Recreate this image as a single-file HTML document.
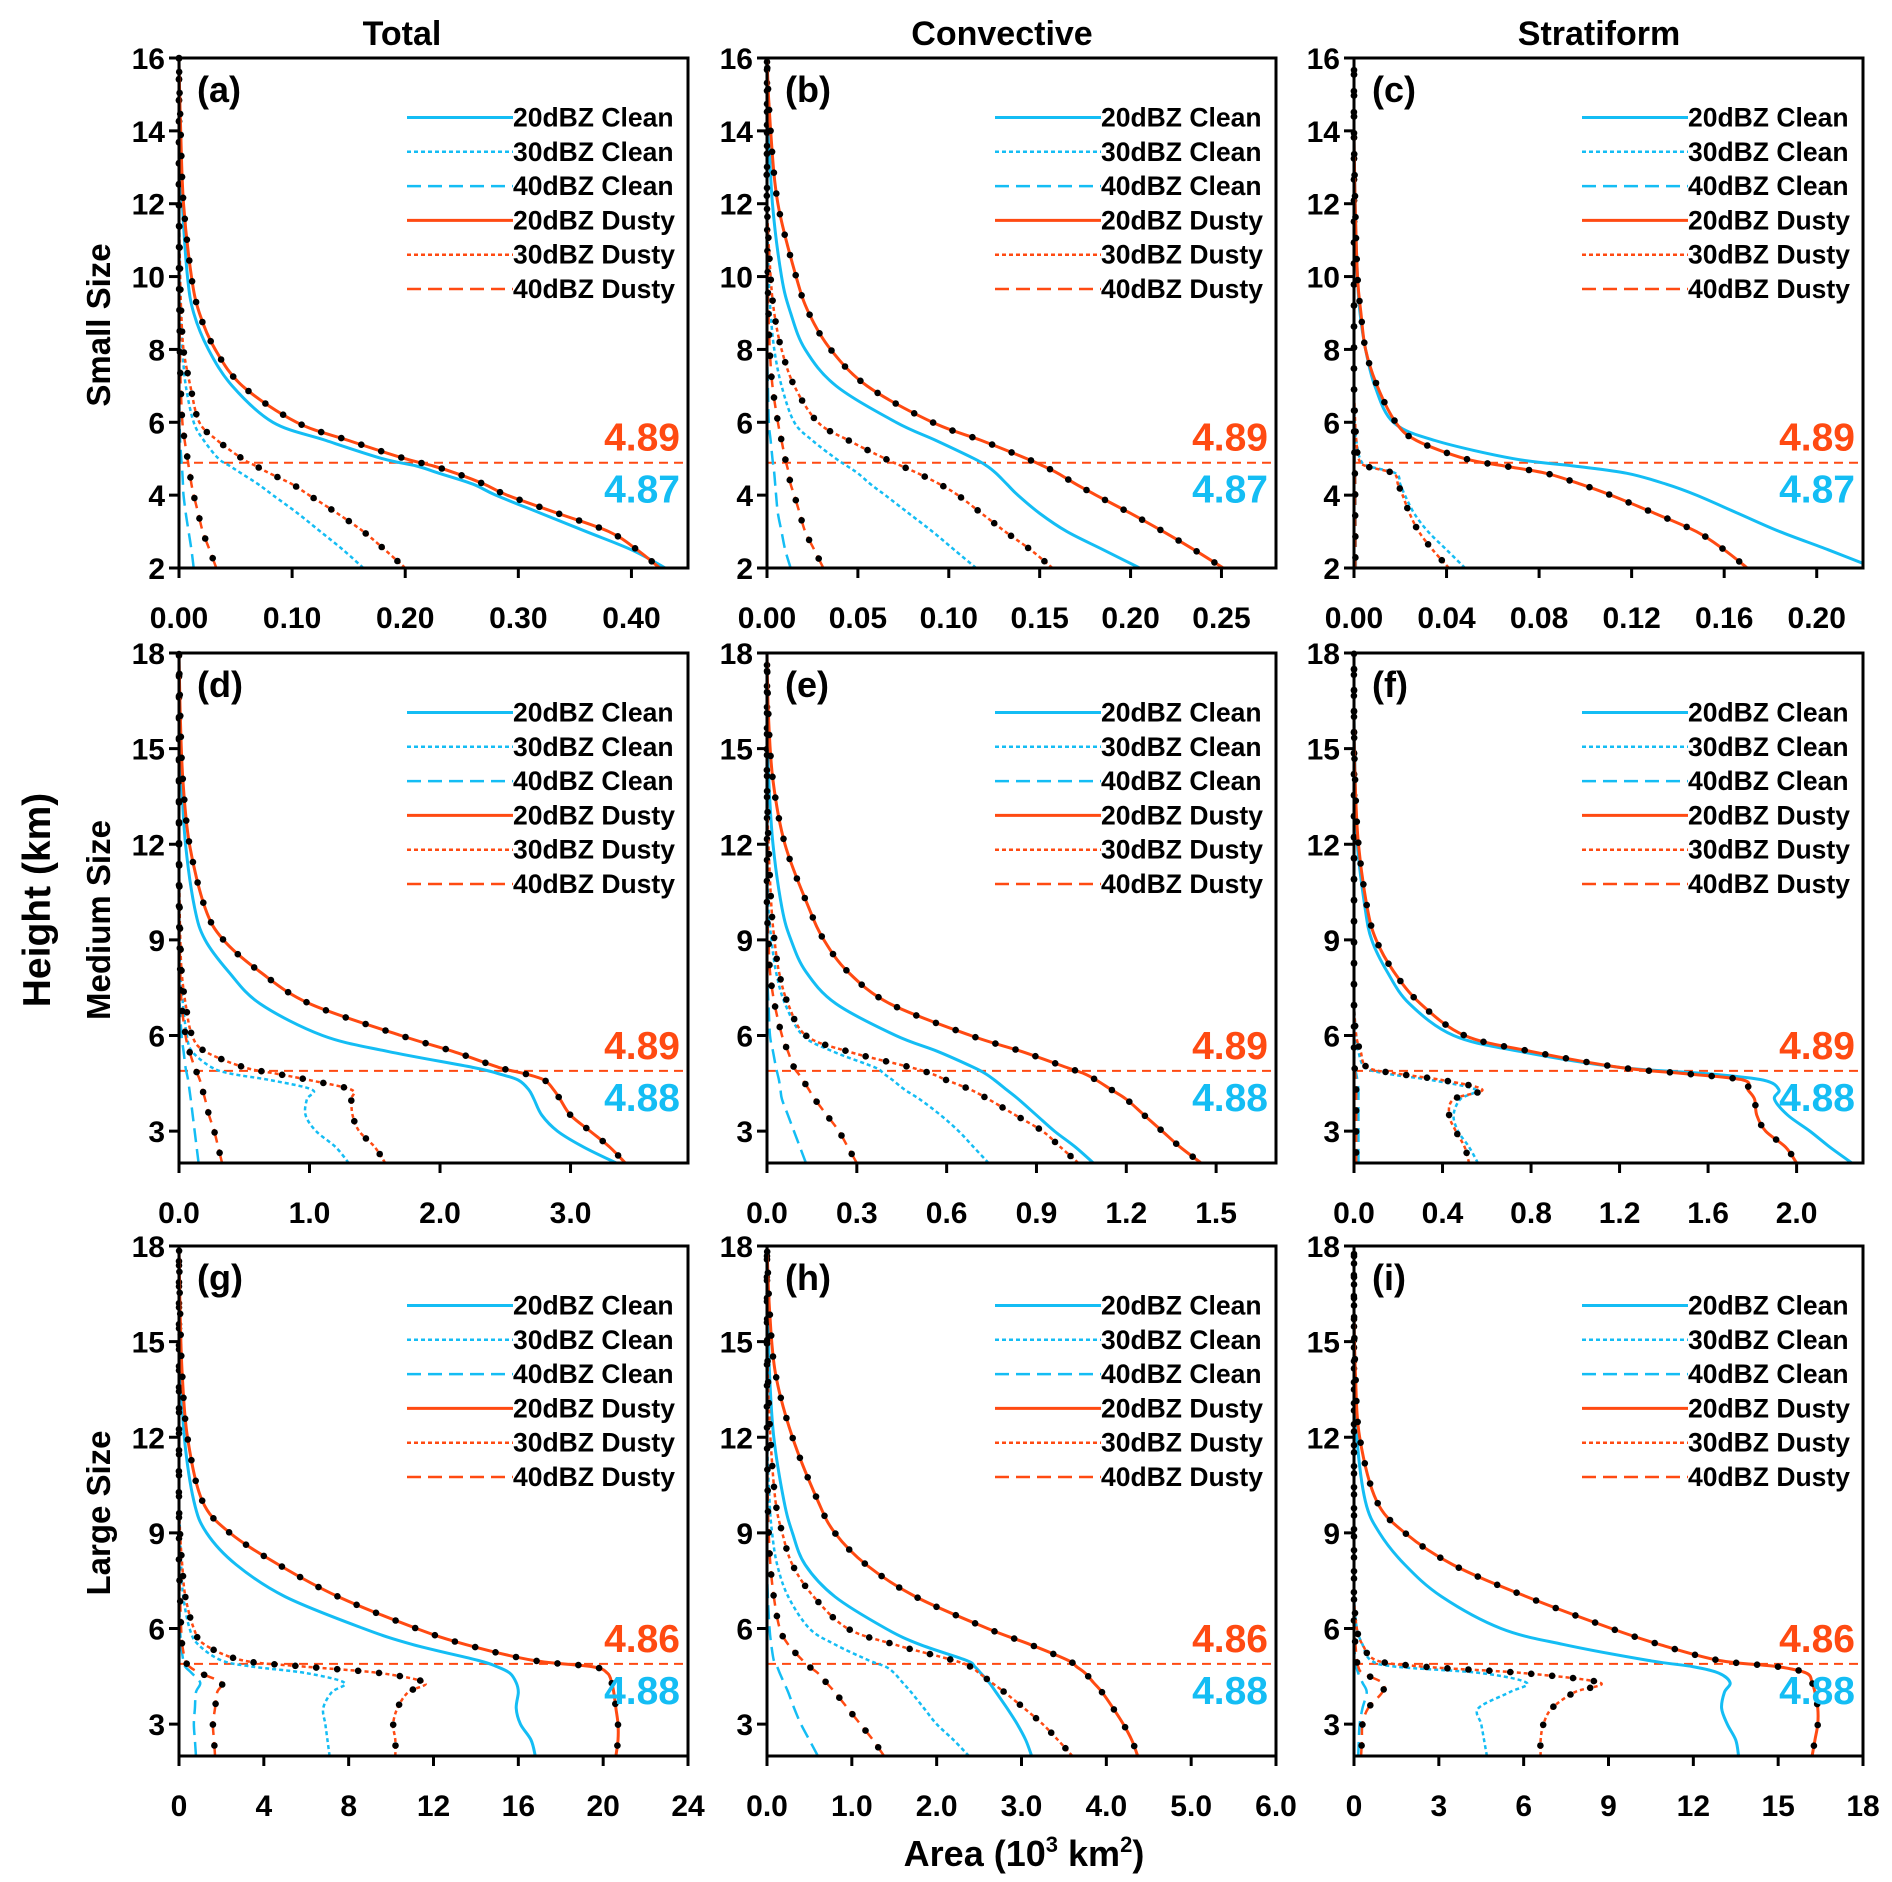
<!DOCTYPE html>
<html><head><meta charset="utf-8"><style>
html,body{margin:0;padding:0;background:#fff}
svg{display:block;font-family:"Liberation Sans",Arial,sans-serif;font-weight:bold}
</style></head><body>
<svg id="fig" width="1892" height="1882" viewBox="0 0 1892 1882" xmlns="http://www.w3.org/2000/svg"></svg>
<script>
// shared height grid (km)
const H = [2,2.5,3,3.5,4,4.3,4.6,4.8,5,5.5,6,7,8,9,10,12,14,16,18];
const seriesNames = ["20dBZ Clean","30dBZ Clean","40dBZ Clean","20dBZ Dusty","30dBZ Dusty","40dBZ Dusty"];
const panelLetters = ["a","b","c","d","e","f","g","h","i"];
const colTitles = ["Total","Convective","Stratiform"];
const rowTitles = ["Small Size","Medium Size","Large Size"];
const xMaxes = [0.45,0.28,0.22,3.9,1.7,2.3,24,6,18];
const xTicks = [[0,0.1,0.2,0.3,0.4],[0,0.05,0.1,0.15,0.2,0.25],[0,0.04,0.08,0.12,0.16,0.2],[0,1,2,3],[0,0.3,0.6,0.9,1.2,1.5],[0,0.4,0.8,1.2,1.6,2.0],[0,4,8,12,16,20,24],[0,1,2,3,4,5,6],[0,3,6,9,12,15,18]];
const xDecimals = [2,2,2,1,1,1,0,1,0];
const yTicksRow1 = [2,4,6,8,10,12,14,16];
const yTicksRow23 = [3,6,9,12,15,18];
const dustyLabels = ["4.89","4.89","4.89","4.89","4.89","4.89","4.86","4.86","4.86"];
const cleanLabels = ["4.87","4.87","4.87","4.88","4.88","4.88","4.88","4.88","4.88"];
const refHeight = 4.89;

// panel a
const a20C=[0.43,0.40,0.36,0.32,0.28,0.26,0.23,0.21,0.18,0.13,0.083,0.047,0.026,0.013,0.0075,0.003,0.001,0,0];
const a30C=[0.163,0.145,0.125,0.105,0.083,0.07,0.055,0.045,0.035,0.022,0.013,0.006,0.003,0.0015,0.001,0,0,0,0];
const a40C=[0.013,0.011,0.0085,0.006,0.004,0.0035,0.003,0.0025,0.002,0.001,0.0005,0,0,0,0,0,0,0,0];
const a20D=[0.425,0.405,0.38,0.335,0.29,0.27,0.245,0.225,0.2,0.15,0.104,0.056,0.032,0.018,0.011,0.004,0.0015,0,0];
const a30D=[0.2,0.182,0.163,0.14,0.115,0.1,0.08,0.068,0.056,0.034,0.018,0.01,0.004,0.002,0.001,0,0,0,0];
const a40D=[0.033,0.027,0.021,0.017,0.013,0.011,0.0095,0.0085,0.0075,0.005,0.003,0.0015,0.0008,0.0004,0,0,0,0,0];
// panel b
const b20C=[0.205,0.185,0.165,0.15,0.138,0.132,0.126,0.121,0.114,0.093,0.071,0.038,0.021,0.013,0.008,0.003,0.001,0,0];
const b30C=[0.115,0.103,0.091,0.078,0.065,0.057,0.05,0.044,0.038,0.025,0.015,0.008,0.004,0.002,0.001,0,0,0,0];
const b40C=[0.013,0.01,0.008,0.006,0.005,0.0045,0.004,0.0035,0.003,0.002,0.001,0.0005,0,0,0,0,0,0,0];
const b20D=[0.251,0.235,0.218,0.2,0.181,0.17,0.16,0.152,0.143,0.118,0.091,0.055,0.035,0.023,0.016,0.006,0.002,0,0];
const b30D=[0.157,0.145,0.131,0.118,0.105,0.095,0.083,0.074,0.065,0.045,0.028,0.015,0.008,0.004,0.002,0,0,0,0];
const b40D=[0.031,0.026,0.021,0.018,0.015,0.013,0.012,0.011,0.01,0.008,0.006,0.003,0.0015,0.0008,0.0004,0,0,0,0];
// panel c
const c20C=[0.225,0.205,0.184,0.166,0.148,0.135,0.118,0.095,0.069,0.035,0.017,0.009,0.005,0.0026,0.0015,0.0005,0,0,0];
const c30C=[0.048,0.04,0.032,0.026,0.022,0.02,0.018,0.006,0.0026,0.001,0.0003,0,0,0,0,0,0,0,0];
const c40C=[0.0008,0.0008,0.0007,0.0007,0.0006,0.0006,0.0005,0.0004,0.0003,0.0002,0.0001,0,0,0,0,0,0,0,0];
const c20D=[0.17,0.16,0.148,0.13,0.111,0.098,0.083,0.065,0.048,0.027,0.018,0.01,0.005,0.003,0.0015,0.0005,0,0,0];
const c30D=[0.041,0.034,0.028,0.024,0.021,0.019,0.017,0.005,0.002,0.001,0.0005,0,0,0,0,0,0,0,0];
const c40D=[0.0006,0.0006,0.0006,0.0005,0.0005,0.0005,0.0004,0.0003,0.0002,0.0001,0,0,0,0,0,0,0,0,0];
// panel d
const d20C=[3.35,3.1,2.9,2.78,2.72,2.68,2.6,2.45,2.25,1.6,1.1,0.62,0.38,0.2,0.12,0.05,0.02,0.005,0];
const d30C=[1.3,1.2,1.05,0.97,0.98,1.02,0.7,0.4,0.25,0.1,0.06,0.03,0.01,0.005,0,0,0,0,0];
const d40C=[0.15,0.135,0.12,0.105,0.09,0.08,0.07,0.06,0.05,0.035,0.02,0.005,0,0,0,0,0,0,0];
const d20D=[3.42,3.3,3.15,3.0,2.92,2.87,2.8,2.65,2.45,2.1,1.7,1.0,0.62,0.34,0.2,0.08,0.03,0.01,0];
const d30D=[1.58,1.5,1.38,1.33,1.32,1.32,1.0,0.75,0.5,0.2,0.1,0.05,0.02,0.01,0.005,0,0,0,0];
const d40D=[0.33,0.3,0.27,0.23,0.2,0.18,0.16,0.14,0.12,0.08,0.05,0.02,0.01,0.005,0,0,0,0,0];
// panel e
const e20C=[1.09,1.03,0.96,0.9,0.84,0.8,0.76,0.73,0.69,0.57,0.43,0.23,0.13,0.08,0.05,0.02,0.006,0,0];
const e30C=[0.74,0.69,0.64,0.58,0.51,0.46,0.42,0.39,0.36,0.22,0.12,0.06,0.03,0.015,0.005,0,0,0,0];
const e40C=[0.13,0.11,0.09,0.07,0.05,0.045,0.04,0.035,0.03,0.02,0.01,0.005,0,0,0,0,0,0,0];
const e20D=[1.45,1.38,1.32,1.26,1.2,1.15,1.1,1.06,1.0,0.85,0.68,0.41,0.27,0.19,0.14,0.06,0.02,0.005,0];
const e30D=[1.04,0.98,0.92,0.83,0.74,0.68,0.6,0.55,0.48,0.27,0.13,0.07,0.04,0.025,0.015,0.005,0,0,0];
const e40D=[0.3,0.27,0.24,0.2,0.16,0.14,0.12,0.105,0.09,0.07,0.05,0.025,0.01,0.005,0,0,0,0,0];
// panel f
const f20C=[2.25,2.15,2.06,1.96,1.9,1.92,1.85,1.6,1.2,0.75,0.45,0.25,0.15,0.08,0.05,0.015,0.005,0,0];
const f30C=[0.56,0.52,0.47,0.45,0.48,0.55,0.35,0.15,0.05,0.02,0.01,0,0,0,0,0,0,0,0];
const f40C=[0.02,0.02,0.02,0.02,0.02,0.02,0.015,0.01,0.005,0,0,0,0,0,0,0,0,0,0];
const f20D=[2.0,1.95,1.86,1.82,1.81,1.78,1.76,1.5,1.2,0.8,0.5,0.3,0.18,0.1,0.06,0.02,0.005,0,0];
const f30D=[0.52,0.5,0.46,0.43,0.45,0.58,0.4,0.2,0.06,0.03,0.01,0,0,0,0,0,0,0,0];
const f40D=[0.01,0.01,0.01,0.01,0.01,0.01,0.008,0.005,0.003,0,0,0,0,0,0,0,0,0,0];
// panel g
const g20C=[16.8,16.6,16.1,15.9,16.0,15.9,15.6,15.0,14.1,11,8.7,5.0,2.7,1.3,0.7,0.25,0.1,0.03,0];
const g30C=[7.1,7.0,6.9,6.8,7.2,7.8,6.0,3.5,2.0,0.9,0.5,0.2,0.1,0.05,0,0,0,0,0];
const g40C=[0.8,0.75,0.7,0.75,0.8,1.0,0.6,0.3,0.2,0.1,0.05,0,0,0,0,0,0,0,0];
const g20D=[20.6,20.7,20.7,20.6,20.5,20.4,20.2,19.5,16.7,13.5,11.2,7.5,4.7,2.4,1.1,0.4,0.15,0.05,0];
const g30D=[10.2,10.2,10.1,10.3,10.8,11.6,9.5,6,3.0,1.2,0.7,0.3,0.15,0.05,0,0,0,0,0];
const g40D=[1.7,1.65,1.6,1.7,1.8,2.0,1.0,0.5,0.3,0.15,0.1,0.05,0,0,0,0,0,0,0];
// panel h
const h20C=[3.12,3.05,2.95,2.83,2.7,2.62,2.52,2.45,2.35,1.8,1.4,0.8,0.45,0.3,0.2,0.08,0.03,0.01,0];
const h30C=[2.38,2.2,2.0,1.85,1.7,1.6,1.5,1.4,1.2,0.8,0.5,0.25,0.12,0.06,0.03,0,0,0,0];
const h40C=[0.6,0.5,0.4,0.32,0.25,0.2,0.15,0.12,0.08,0.05,0.03,0.01,0,0,0,0,0,0,0];
const h20D=[4.37,4.3,4.2,4.08,3.95,3.85,3.75,3.65,3.55,3.1,2.6,1.75,1.17,0.8,0.6,0.3,0.1,0.03,0];
const h30D=[3.6,3.43,3.25,3.03,2.8,2.65,2.5,2.4,2.2,1.5,0.95,0.55,0.3,0.18,0.1,0.04,0.01,0,0];
const h40D=[1.38,1.25,1.1,0.95,0.8,0.7,0.6,0.5,0.42,0.25,0.15,0.08,0.04,0.02,0.01,0,0,0,0];
// panel i
const i20C=[13.6,13.5,13.2,13.0,13.1,13.3,12.9,12.0,10.4,7.4,5.2,3.1,1.8,0.9,0.4,0.1,0.03,0,0];
const i30C=[4.7,4.6,4.5,4.4,5.5,6.1,4.5,1.5,0.6,0.3,0.1,0,0,0,0,0,0,0,0];
const i40C=[0.15,0.17,0.2,0.3,0.45,0.3,0.15,0.08,0.05,0,0,0,0,0,0,0,0,0,0];
const i20D=[16.2,16.3,16.4,16.4,16.3,16.2,16.0,15.0,12.9,10.8,9.1,6.1,3.5,1.8,0.8,0.2,0.05,0,0];
const i30D=[6.6,6.6,6.7,7.0,7.8,8.7,6.0,2.5,0.8,0.3,0.1,0,0,0,0,0,0,0,0];
const i40D=[0.25,0.28,0.3,0.5,1.0,1.0,0.3,0.15,0.1,0.05,0,0,0,0,0,0,0,0,0];

const panelSeries = [
 [a20C,a30C,a40C,a20D,a30D,a40D],[b20C,b30C,b40C,b20D,b30D,b40D],[c20C,c30C,c40C,c20D,c30D,c40D],
 [d20C,d30C,d40C,d20D,d30D,d40D],[e20C,e30C,e40C,e20D,e30D,e40D],[f20C,f30C,f40C,f20D,f30D,f40D],
 [g20C,g30C,g40C,g20D,g30D,g40D],[h20C,h30C,h40C,h20D,h30D,h40D],[i20C,i30C,i40C,i20D,i30D,i40D]];

const NS = "http://www.w3.org/2000/svg";
const svg = document.getElementById("fig");
const CYAN = "#14BDF4", RED = "#FF4A12";
const lefts = [179,767,1354], tops = [58,653,1246], PW = 509, PH = 510;
const styles = [
 {c:CYAN,d:null,w:3},{c:CYAN,d:"4 3",w:2.5},{c:CYAN,d:"14 7",w:2.5},
 {c:RED,d:null,w:3},{c:RED,d:"4 3",w:2.5},{c:RED,d:"14 7",w:2.5}];

function mk(tag, attrs, parent){
  const e = document.createElementNS(NS, tag);
  for (const k in attrs) e.setAttribute(k, attrs[k]);
  (parent||svg).appendChild(e);
  return e;
}
function txt(str, attrs, parent){ const e = mk("text", attrs, parent); e.textContent = str; return e; }
function smoothPath(pts){
  let d = "M"+pts[0][0].toFixed(2)+","+pts[0][1].toFixed(2);
  for (let k=0;k<pts.length-1;k++){
    const p0=pts[Math.max(k-1,0)], p1=pts[k], p2=pts[k+1], p3=pts[Math.min(k+2,pts.length-1)];
    const c1=[p1[0]+(p2[0]-p0[0])/6, p1[1]+(p2[1]-p0[1])/6];
    const c2=[p2[0]-(p3[0]-p1[0])/6, p2[1]-(p3[1]-p1[1])/6];
    d += "C"+c1[0].toFixed(2)+","+c1[1].toFixed(2)+" "+c2[0].toFixed(2)+","+c2[1].toFixed(2)+" "+p2[0].toFixed(2)+","+p2[1].toFixed(2);
  }
  return d;
}

// titles
const titleX = [402,1002,1599];
colTitles.forEach((t,c)=>{
  const e = txt(t,{x:titleX[c],y:45,"text-anchor":"middle","font-size":34});
  
  
});
rowTitles.forEach((t,r)=>{
  const cy = tops[r]+PH/2+12;
  const e = txt(t,{x:0,y:0,"text-anchor":"middle","font-size":33,transform:"translate(110,"+cy+") rotate(-90)"});
  
  
});
{
  const e = txt("Height (km)",{x:0,y:0,"text-anchor":"middle","font-size":39,transform:"translate(50,900) rotate(-90)"});
  
  
  const e2 = txt("",{x:1024,y:1866,"text-anchor":"middle","font-size":36});
  
  
  e2.innerHTML = 'Area (10<tspan dy="-14" font-size="22">3</tspan><tspan dy="14"> km</tspan><tspan dy="-14" font-size="22">2</tspan><tspan dy="14">)</tspan>';
}

for (let p=0;p<9;p++){
  const r = Math.floor(p/3), c = p%3;
  const L = lefts[c], T = tops[r];
  const yMax = r===0 ? 16 : 18, yMin = 2;
  const xMax = xMaxes[p];
  const xs = v => L + v/xMax*PW;
  const ys = h => T + PH - (h-yMin)/(yMax-yMin)*PH;
  const g = mk("g",{});
  
  
  const cid = "clip"+p;
  const cp = mk("clipPath",{id:cid},g);
  mk("rect",{x:L,y:T,width:PW,height:PH},cp);

  const ref = mk("line",{x1:L,x2:L+PW,y1:ys(refHeight),y2:ys(refHeight),stroke:RED,"stroke-width":2,"stroke-dasharray":"9 6"},g);
  
  

  const order = [2,1,0,5,4,3];
  order.forEach(s=>{
    const vals = panelSeries[p][s];
    const pts = H.map((h,k)=>[xs(vals[k]), ys(h)]);
    const st = styles[s];
    const path = mk("path",{d:smoothPath(pts),fill:"none",stroke:st.c,"stroke-width":st.w,"clip-path":"url(#"+cid+")"},g);
    if (st.d) path.setAttribute("stroke-dasharray",st.d);
    
    
    if (s>=3){
      const len = path.getTotalLength();
      const step = 21;
      for (let l=step*0.5;l<len;l+=step){
        const q = path.getPointAtLength(l);
        if (q.y < T || q.y > T+PH || q.x > L+PW) continue;
        const dot = mk("circle",{cx:q.x.toFixed(1),cy:q.y.toFixed(1),r:3.3,fill:"#000"},g);
        
        
      }
    }
  });

  const fr = mk("rect",{x:L,y:T,width:PW,height:PH,fill:"none",stroke:"#000","stroke-width":3},g);
  
  

  const yt = r===0 ? yTicksRow1 : yTicksRow23;
  yt.forEach(v=>{
    mk("line",{x1:L-10,x2:L,y1:ys(v),y2:ys(v),stroke:"#000","stroke-width":3},g);
    const t = txt(String(v),{x:L-14,y:ys(v)+11,"text-anchor":"end","font-size":30},g);
    
    
  });
  xTicks[p].forEach(v=>{
    mk("line",{x1:xs(v),x2:xs(v),y1:T+PH,y2:T+PH+10,stroke:"#000","stroke-width":3},g);
    const t = txt(v.toFixed(xDecimals[p]),{x:xs(v),y:T+PH+60,"text-anchor":"middle","font-size":30},g);
    
    
  });

  const pl = txt("("+panelLetters[p]+")",{x:L+18,y:T+44,"font-size":36},g);
  
  

  seriesNames.forEach((n,s)=>{
    const y = T+59.5+s*34.3;
    const st = styles[s];
    const ln = mk("line",{x1:L+228,x2:L+334,y1:y,y2:y,stroke:st.c,"stroke-width":st.w},g);
    if (st.d) ln.setAttribute("stroke-dasharray",st.d);
    
    
    const t = txt(n,{x:L+334,y:y+9,"font-size":26.5},g);
    
    
  });

  const vr = txt(dustyLabels[p],{x:L+PW-8,y:ys(refHeight)-12,"text-anchor":"end","font-size":39,fill:RED},g);
  
  
  const vc = txt(cleanLabels[p],{x:L+PW-8,y:ys(refHeight)+40,"text-anchor":"end","font-size":39,fill:CYAN},g);
  
  
}
</script>
</body></html>
